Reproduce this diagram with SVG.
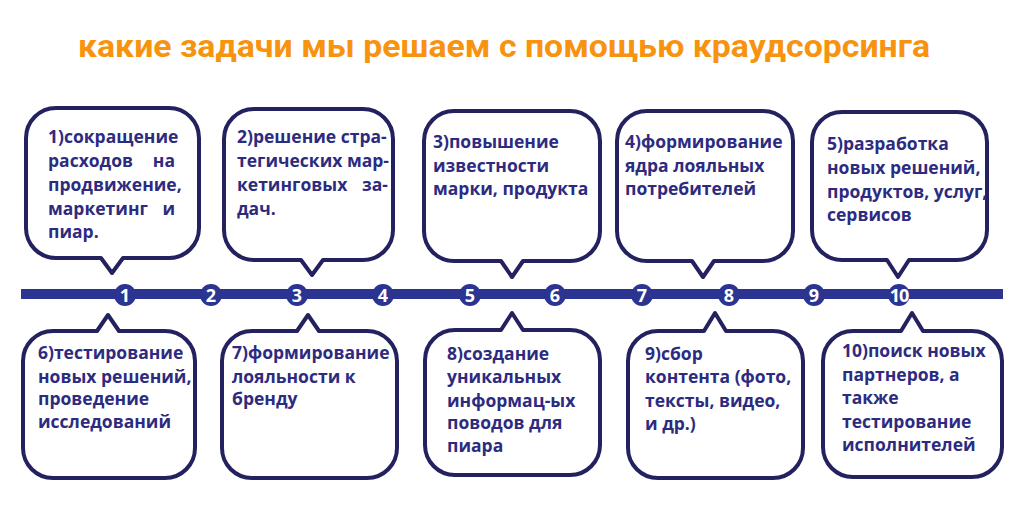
<svg xmlns="http://www.w3.org/2000/svg" width="1024" height="511" viewBox="0 0 1024 511">
<style>
.bub{fill:#fff;stroke:#23225f;stroke-width:4;stroke-linejoin:round}
.t{font-family:"Open Sans","DejaVu Sans",sans-serif;font-weight:700;font-size:17.5px;fill:#2d2b80}
.n{font-family:"Open Sans","DejaVu Sans",sans-serif;font-weight:700;font-size:18px;fill:#fff;text-anchor:middle}
.dot{fill:#2b3491}
.title{font-family:Roboto,"Liberation Sans",sans-serif;font-weight:700;font-size:32px;fill:#f7930f}
</style>
<rect width="1024" height="511" fill="#fff"/>
<text class="title" x="78" y="57" textLength="852" lengthAdjust="spacingAndGlyphs">какие задачи мы решаем с помощью краудсорсинга</text>

<g id="timeline">
<rect x="21" y="289" width="982" height="10" class="dot"/>
<g id="m1"><circle cx="125" cy="295" r="11" class="dot"/><text class="n" x="125" y="302">1</text></g>
<g id="m2"><circle cx="211" cy="295" r="11" class="dot"/><text class="n" x="211" y="302">2</text></g>
<g id="m3"><circle cx="297" cy="295" r="11" class="dot"/><text class="n" x="297" y="302">3</text></g>
<g id="m4"><circle cx="383" cy="295" r="11" class="dot"/><text class="n" x="383" y="302">4</text></g>
<g id="m5"><circle cx="470" cy="295" r="11" class="dot"/><text class="n" x="470" y="302">5</text></g>
<g id="m6"><circle cx="555" cy="295" r="11" class="dot"/><text class="n" x="555" y="302">6</text></g>
<g id="m7"><circle cx="642" cy="295" r="11" class="dot"/><text class="n" x="642" y="302">7</text></g>
<g id="m8"><circle cx="729" cy="295" r="11" class="dot"/><text class="n" x="729" y="302">8</text></g>
<g id="m9"><circle cx="814" cy="295" r="11" class="dot"/><text class="n" x="814" y="302">9</text></g>
<g id="m10"><circle cx="899" cy="295" r="11" class="dot"/><text class="n" x="899" y="302" letter-spacing="-1">10</text></g>
</g>

<g id="b1">
<path class="bub" d="M56,108 H169 A30,30 0 0 1 199,138 V228 A30,30 0 0 1 169,258 H123 L112,273 L101,258 H56 A30,30 0 0 1 26,228 V138 A30,30 0 0 1 56,108 Z"/>
<text class="t" x="48" y="143">1)сокращение</text>
<text class="t" x="48" y="167">расходов</text><text class="t" x="175" y="167" text-anchor="end">на</text>
<text class="t" x="48" y="191">продвижение,</text>
<text class="t" x="48" y="215">маркетинг</text><text class="t" x="175" y="215" text-anchor="end">и</text>
<text class="t" x="48" y="238">пиар.</text>
</g>

<g id="b2">
<path class="bub" d="M254,109 H363 A30,30 0 0 1 393,139 V230 A30,30 0 0 1 363,260 H323 L312,275 L301,260 H254 A30,30 0 0 1 224,230 V139 A30,30 0 0 1 254,109 Z"/>
<text class="t" x="237" y="143">2)решение стра-</text>
<text class="t" x="237" y="167">тегических мар-</text>
<text class="t" x="237" y="191">кетинговых</text><text class="t" x="388" y="191" text-anchor="end">за-</text>
<text class="t" x="237" y="215">дач.</text>
</g>

<g id="b3">
<path class="bub" d="M454,111 H570 A30,30 0 0 1 600,141 V231 A30,30 0 0 1 570,261 H523 L512,277 L501,261 H454 A30,30 0 0 1 424,231 V141 A30,30 0 0 1 454,111 Z"/>
<text class="t" x="433" y="148">3)повышение</text>
<text class="t" x="433" y="172">известности</text>
<text class="t" x="433" y="195">марки, продукта</text>
</g>

<g id="b4">
<path class="bub" d="M647,111 H763 A30,30 0 0 1 793,141 V231 A30,30 0 0 1 763,261 H714 L703,277 L692,261 H647 A30,30 0 0 1 617,231 V141 A30,30 0 0 1 647,111 Z"/>
<text class="t" x="625" y="148">4)формирование</text>
<text class="t" x="625" y="172">ядра лояльных</text>
<text class="t" x="625" y="195">потребителей</text>
</g>

<g id="b5">
<path class="bub" d="M842,112 H957 A30,30 0 0 1 987,142 V230 A30,30 0 0 1 957,260 H909 L898,277 L887,260 H842 A30,30 0 0 1 812,230 V142 A30,30 0 0 1 842,112 Z"/>
<text class="t" x="827" y="150">5)разработка</text>
<text class="t" x="827" y="174">новых решений,</text>
<text class="t" x="827" y="198">продуктов, услуг,</text>
<text class="t" x="827" y="221">сервисов</text>
</g>

<g id="b6">
<path class="bub" d="M53,331 H97 L108,315 L119,331 H165 A30,30 0 0 1 195,361 V448 A30,30 0 0 1 165,478 H53 A30,30 0 0 1 23,448 V361 A30,30 0 0 1 53,331 Z"/>
<text class="t" x="38" y="359">6)тестирование</text>
<text class="t" x="38" y="383">новых решений,</text>
<text class="t" x="38" y="405">проведение</text>
<text class="t" x="38" y="428">исследований</text>
</g>

<g id="b7">
<path class="bub" d="M252,331 H297 L308,315 L319,331 H367 A30,30 0 0 1 397,361 V448 A30,30 0 0 1 367,478 H252 A30,30 0 0 1 222,448 V361 A30,30 0 0 1 252,331 Z"/>
<text class="t" x="232" y="359">7)формирование</text>
<text class="t" x="232" y="383">лояльности к</text>
<text class="t" x="232" y="405">бренду</text>
</g>

<g id="b8">
<path class="bub" d="M455,330 H501 L512,313 L523,330 H570 A30,30 0 0 1 600,360 V445 A30,30 0 0 1 570,475 H455 A30,30 0 0 1 425,445 V360 A30,30 0 0 1 455,330 Z"/>
<text class="t" x="447" y="360">8)создание</text>
<text class="t" x="447" y="383">уникальных</text>
<text class="t" x="447" y="407">информац-ых</text>
<text class="t" x="447" y="429">поводов для</text>
<text class="t" x="447" y="452">пиара</text>
</g>

<g id="b9">
<path class="bub" d="M658,331 H704 L715,313 L726,331 H773 A30,30 0 0 1 803,361 V448 A30,30 0 0 1 773,478 H658 A30,30 0 0 1 628,448 V361 A30,30 0 0 1 658,331 Z"/>
<text class="t" x="645" y="360">9)сбор</text>
<text class="t" x="645" y="383">контента (фото,</text>
<text class="t" x="645" y="407">тексты, видео,</text>
<text class="t" x="645" y="430">и др.)</text>
</g>

<g id="b10">
<path class="bub" d="M853,331 H901 L912,313 L923,331 H972 A30,30 0 0 1 1002,361 V447 A30,30 0 0 1 972,477 H853 A30,30 0 0 1 823,447 V361 A30,30 0 0 1 853,331 Z"/>
<text class="t" x="842" y="357">10)поиск новых</text>
<text class="t" x="842" y="381">партнеров, а</text>
<text class="t" x="842" y="404">также</text>
<text class="t" x="842" y="428">тестирование</text>
<text class="t" x="842" y="451">исполнителей</text>
</g>
</svg>
